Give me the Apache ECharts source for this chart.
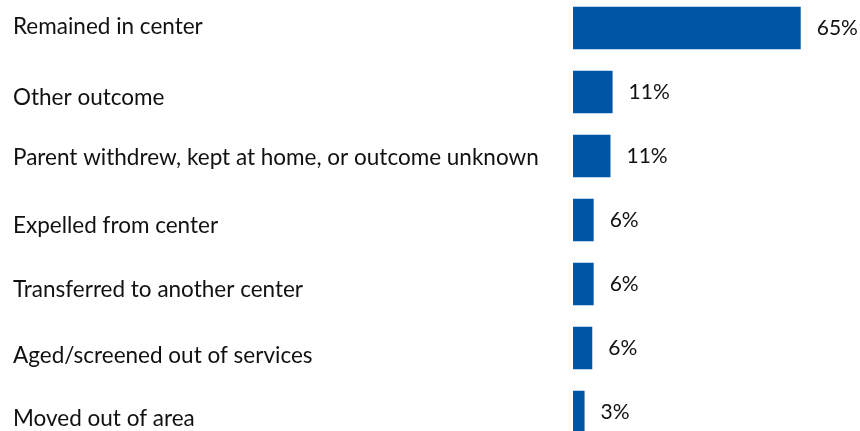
<!DOCTYPE html>
<html>
<head>
<meta charset="utf-8">
<script src="https://cdn.jsdelivr.net/npm/echarts@6/dist/echarts.min.js"></script>
<style>
html,body{margin:0;padding:0;background:#fff;}
#chart{width:860px;height:431px;}
</style>
</head>
<body>
<div id="chart"></div>
<script>
var categories = [
  'Remained in center',
  'Other outcome',
  'Parent withdrew, kept at home, or outcome unknown',
  'Expelled from center',
  'Transferred to another center',
  'Aged/screened out of services',
  'Moved out of area'
];
var values = [65, 11.3, 10.7, 5.9, 5.9, 5.5, 3.3];
var valueLabels = ['65%', '11%', '11%', '6%', '6%', '6%', '3%'];

// vertical nudges (px) of the category labels, as seen in the original
var labelNudge = [-1, 6, 1.8, 5.8, 6, 7.5, 6.8];

var FONT = 'Lato';
var rich = {};
labelNudge.forEach(function (n, i) {
  rich['r' + i] = {
    fontFamily: FONT, fontSize: 22.5, color: '#111111',
    padding: n >= 0 ? [2 * n, 0, 0, 0] : [0, 0, -2 * n, 0]
  };
});

var chart = echarts.init(document.getElementById('chart'), null, {renderer: 'canvas'});
chart.setOption({
  animation: false,
  backgroundColor: '#ffffff',
  grid: {left: 573, width: 227.7, top: -4, height: 448, containLabel: false, outerBoundsMode: 'none'},
  xAxis: {
    type: 'value', min: 0, max: 65,
    show: false
  },
  yAxis: {
    type: 'category', inverse: true,
    data: categories,
    axisLine: {show: false}, axisTick: {show: false}, splitLine: {show: false},
    axisLabel: {
      align: 'left', margin: 560,
      color: '#111111', fontFamily: FONT, fontSize: 22.5,
      formatter: function (v, i) { return '{r' + i + '|' + v + '}'; },
      rich: rich
    }
  },
  series: [{
    type: 'bar',
    data: values,
    barWidth: 42.5,
    itemStyle: {color: '#0055A5'},
    label: {
      show: true, position: 'right', distance: 16,
      color: '#111111', fontFamily: FONT, fontSize: 21,
      padding: [3, 0, 0, 0],
      formatter: function (p) { return valueLabels[p.dataIndex]; }
    }
  }]
});
</script>
</body>
</html>
